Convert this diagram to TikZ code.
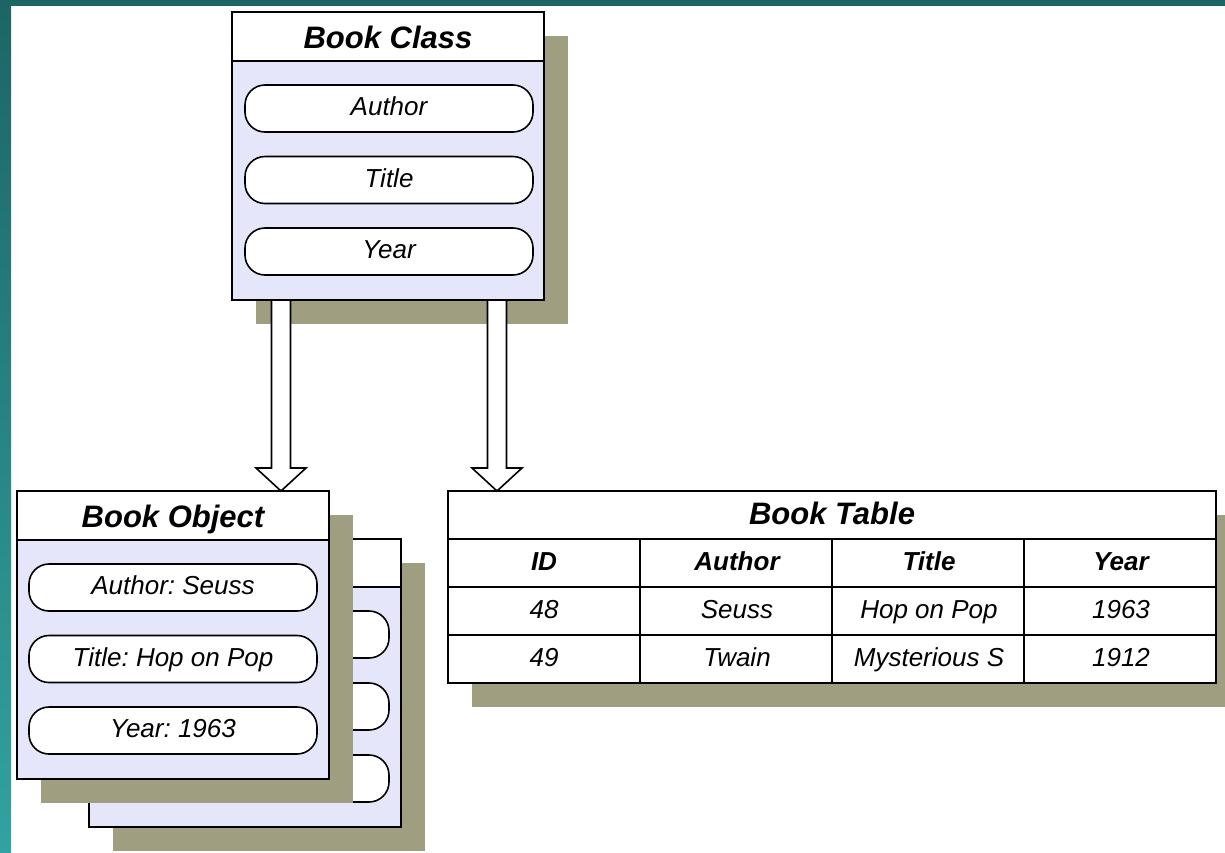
\documentclass[tikz,border=0pt]{standalone}
\usepackage{fontspec}
\setmainfont{Liberation Sans}
\usetikzlibrary{calc,shadows}
\frenchspacing

\definecolor{tealdark}{RGB}{29,101,101}
\definecolor{teallight}{RGB}{49,163,160}
\definecolor{shadowolive}{RGB}{160,158,128}
\definecolor{panelfill}{RGB}{230,230,250}

\tikzset{
  edge/.style={line width=1.8pt},
  olive shadow/.style={general shadow={fill=shadowolive, draw=none, shadow xshift=23.5pt, shadow yshift=-23.5pt}},
  card/.style={draw=black, edge, fill=panelfill, minimum width=312pt, minimum height=288pt,
    inner sep=0pt, outer sep=0pt, anchor=north west, olive shadow},
  cardhead/.style={draw=black, edge, fill=white},
  cardtitle/.style={font=\bfseries\itshape\fontsize{31}{36}\selectfont, inner sep=0pt,
    text height=22pt, text depth=6pt},
  slot/.style={draw=black, line width=1.6pt, fill=white, rounded corners=20pt,
    minimum width=288pt, minimum height=47pt, inner sep=0pt, outer sep=0pt, anchor=north west,
    font=\itshape\fontsize{26}{30}\selectfont, text height=19pt, text depth=5pt},
  tableframe/.style={draw=black, edge, fill=white, minimum width=768pt, minimum height=192pt,
    inner sep=0pt, outer sep=0pt, anchor=north west, olive shadow},
  cell/.style={font=\itshape\fontsize{26}{30}\selectfont, inner sep=0pt,
    text height=19pt, text depth=5pt},
  colhead/.style={cell, font=\bfseries\itshape\fontsize{26}{30}\selectfont},
  blockarrow/.style={draw=black, line width=1.6pt, fill=white, line join=miter},
}

\begin{document}
\begin{tikzpicture}[x=1pt,y=-1pt]
\useasboundingbox (0,0) rectangle (1225,852);

% slide background with teal frame
\fill[white] (0,0) rectangle (1225,852);
\shade[top color=tealdark, bottom color=teallight] (0,0) rectangle (11,852);
\fill[tealdark] (0,0) rectangle (1225,6);

% ---- Book Class ----
\node[card] (cls) at (232,12) {};
\draw[cardhead] (cls.north west) rectangle ($(cls.north east)+(0,49)$);
\node[cardtitle] (clsname) at ($(cls.north)+(0,28)$) {Book Class};
\node[slot] (clsA) at ($(cls.north west)+(13,73)$) {Author};
\node[slot] (clsT) at ($(cls.north west)+(13,144.5)$) {Title};
\node[slot] (clsY) at ($(cls.north west)+(13,216)$) {Year};

% ---- Book Object (second instance, behind) ----
\node[card] (objb) at (89,539) {};
\draw[cardhead] (objb.north west) rectangle ($(objb.north east)+(0,48)$);
\node[slot] (objbA) at ($(objb.north west)+(12,72)$) {};
\node[slot] (objbT) at ($(objb.north west)+(12,144)$) {};
\node[slot] (objbY) at ($(objb.north west)+(12,216)$) {};

% ---- Book Object (front instance) ----
\node[card] (obj) at (17,491) {};
\draw[cardhead] (obj.north west) rectangle ($(obj.north east)+(0,49)$);
\node[cardtitle] (objname) at ($(obj.north)+(0,28)$) {Book Object};
\node[slot] (objA) at ($(obj.north west)+(12,73)$) {Author: Seuss};
\node[slot] (objT) at ($(obj.north west)+(12,144.5)$) {Title: Hop on Pop};
\node[slot] (objY) at ($(obj.north west)+(12,216)$) {Year: 1963};

% ---- Book Table ----
\node[tableframe] (tbl) at (448,491) {};
\foreach \dy in {48,96,144}
  \draw[edge] ($(tbl.north west)+(0,\dy)$) -- ($(tbl.north east)+(0,\dy)$);
\foreach \dx in {192,384,576}
  \draw[edge] ($(tbl.north west)+(\dx,48)$) -- ($(tbl.south west)+(\dx,0)$);
\node[cardtitle] (tblname) at ($(tbl.north)+(0,25)$) {Book Table};
\node[colhead] (hID)     at ($(tbl.north west)+(96,72)$)  {ID};
\node[colhead] (hAuthor) at ($(tbl.north west)+(289,72)$) {Author};
\node[colhead] (hTitle)  at ($(tbl.north west)+(481,72)$) {Title};
\node[colhead] (hYear)   at ($(tbl.north west)+(673,72)$) {Year};
\node[cell] (r1ID)     at ($(tbl.north west)+(96,120)$)  {48};
\node[cell] (r1Author) at ($(tbl.north west)+(289,120)$) {Seuss};
\node[cell] (r1Title)  at ($(tbl.north west)+(481,120)$) {Hop on Pop};
\node[cell] (r1Year)   at ($(tbl.north west)+(673,120)$) {1963};
\node[cell] (r2ID)     at ($(tbl.north west)+(96,168)$)  {49};
\node[cell] (r2Author) at ($(tbl.north west)+(289,168)$) {Twain};
\node[cell] (r2Title)  at ($(tbl.north west)+(481,168)$) {Mysterious S};
\node[cell] (r2Year)   at ($(tbl.north west)+(673,168)$) {1912};

% ---- block arrows from the class to its object and table ----
\coordinate (a1) at (281,0);
\coordinate (a2) at (497,0);
\path (a1 |- cls.south) coordinate (a1s) (a1 |- obj.north) coordinate (a1t);
\path (a2 |- cls.south) coordinate (a2s) (a2 |- tbl.north) coordinate (a2t);
\foreach \s/\t in {a1s/a1t, a2s/a2t}
  \draw[blockarrow] ($(\s)+(-9.5,1)$) -- ($(\t)+(-9.5,-23)$) -- ($(\t)+(-25,-23)$) -- (\t)
    -- ($(\t)+(25,-23)$) -- ($(\t)+(9.5,-23)$) -- ($(\s)+(9.5,1)$);
\end{tikzpicture}
\end{document}
